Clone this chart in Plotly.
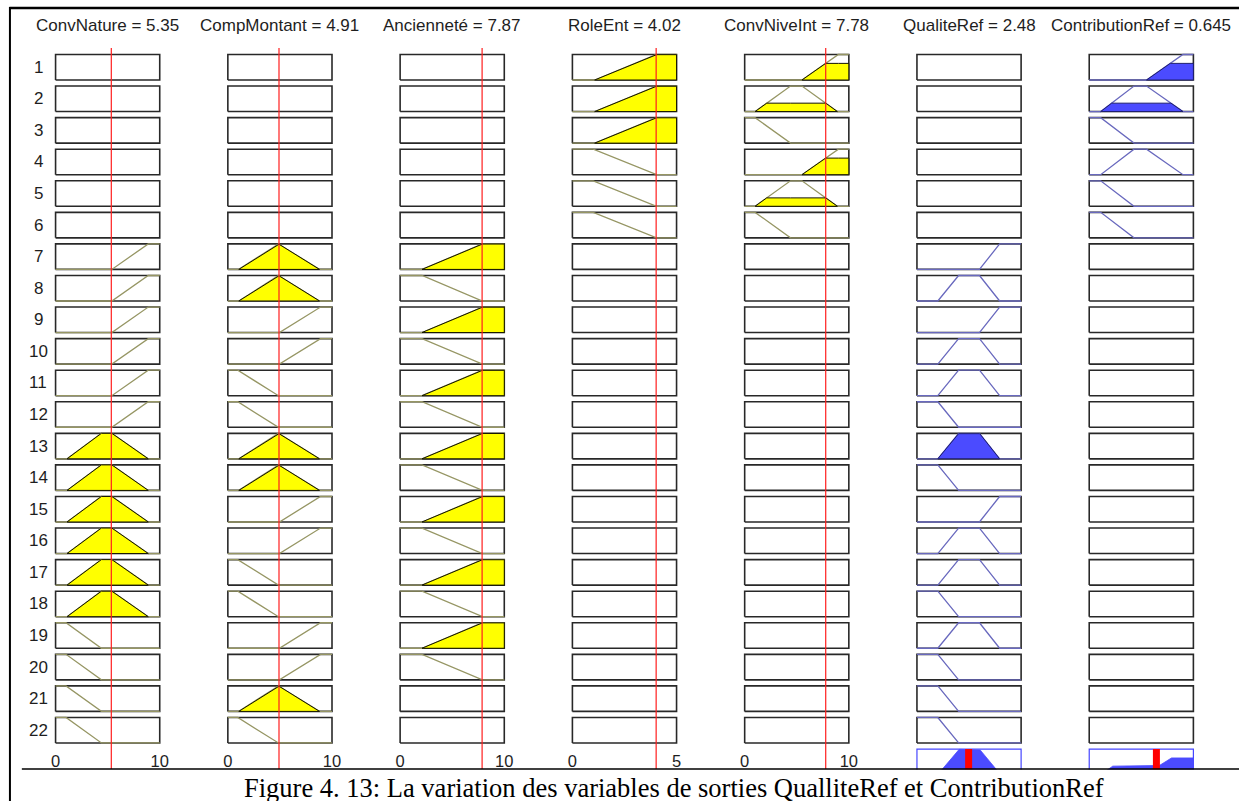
import numpy as np
import plotly.graph_objects as go

# ---------------- data ----------------
var_names = ["ConvNature", "CompMontant", "Ancienneté", "RoleEnt",
             "ConvNiveInt", "QualiteRef", "ContributionRef"]
value_labels = ["5.35", "4.91", "7.87", "4.02", "7.78", "2.48", "0.645"]
var_values = [5.35, 4.91, 7.87, 4.02, 7.78, 2.48, 0.645]
var_ranges = [10, 10, 10, 5, 10, 5, 1]
is_output = [False, False, False, False, False, True, True]

mf_conv_nature = {"low": [0, 0, 1.0, 4.4], "mid": [1.1, 4.4, 5.4, 8.9], "high": [5.4, 8.9, 10, 10]}
mf_comp_montant = {"low": [0, 0, 0.95, 4.86], "mid": [1.05, 4.86, 4.86, 8.8], "high": [4.95, 8.9, 10, 10]}
mf_anciennete = {"low": [0, 0, 2.1, 7.9], "high": [2.1, 7.9, 10, 10]}
mf_role_ent = {"low": [0, 0, 1.0, 4.04], "high": [1.07, 4.04, 5, 5]}
mf_conv_niveint = {"low": [0, 0, 1.0, 4.4], "mid": [1.0, 4.4, 5.5, 8.9], "high": [5.5, 9.0, 10, 10]}
mf_qualite_ref = {"low": [0, 0, 1.0, 2.0], "mid": [1.0, 2.0, 3.0, 3.97], "high": [3.0, 3.97, 5, 5]}
mf_contribution_ref = {"low": [0, 0, 0.11, 0.43], "mid": [0.11, 0.43, 0.55, 0.9], "high": [0.55, 0.9, 1, 1]}
mf_sets = [mf_conv_nature, mf_comp_montant, mf_anciennete, mf_role_ent,
           mf_conv_niveint, mf_qualite_ref, mf_contribution_ref]

# rule table: one entry per variable (None = not used in this rule)
rules = [
    [None, None, None, "high", "high", None, "high"],
    [None, None, None, "high", "mid", None, "mid"],
    [None, None, None, "high", "low", None, "low"],
    [None, None, None, "low", "high", None, "mid"],
    [None, None, None, "low", "mid", None, "low"],
    [None, None, None, "low", "low", None, "low"],
    ["high", "mid", "high", None, None, "high", None],
    ["high", "mid", "low", None, None, "mid", None],
    ["high", "high", "high", None, None, "high", None],
    ["high", "high", "low", None, None, "mid", None],
    ["high", "low", "high", None, None, "mid", None],
    ["high", "low", "low", None, None, "low", None],
    ["mid", "mid", "high", None, None, "mid", None],
    ["mid", "mid", "low", None, None, "low", None],
    ["mid", "high", "high", None, None, "high", None],
    ["mid", "high", "low", None, None, "mid", None],
    ["mid", "low", "high", None, None, "mid", None],
    ["mid", "low", "low", None, None, "low", None],
    ["low", "high", "high", None, None, "mid", None],
    ["low", "high", "low", None, None, "low", None],
    ["low", "mid", None, None, None, "low", None],
    ["low", "low", None, None, None, "low", None],
]
row_labels = [str(i + 1) for i in range(len(rules))]
caption = "Figure 4. 13: La variation des variables de sorties QualliteRef et ContributionRef"

# ---------------- geometry / style ----------------
FIG_W, FIG_H = 1246, 801
BOX_LEFT0, COL_PITCH, BOX_W = 53.0, 173.67, 105.0
BOX_TOP0, ROW_PITCH, BOX_H = 54.5, 31.57, 25.5
PAD = 2.0
SANS = "Liberation Sans, Arial, sans-serif"
SERIF = "Liberation Serif, Times New Roman, serif"
IN_LINE = "rgb(150,150,100)"
IN_FILL = "rgb(255,255,0)"
OUT_LINE = "rgb(105,105,190)"
OUT_FILL = "rgb(75,75,255)"
BOX_COL = "rgb(40,40,40)"
TXT = "#1e1e1e"


def px2x(p):
    return p / FIG_W


def px2y(p):
    return 1 - p / FIG_H


def trap(x, p):
    a, b, c, d = p
    x = np.asarray(x, dtype=float)
    up = np.where(x < a, 0.0, np.where(x >= b, 1.0, (x - a) / max(b - a, 1e-12)))
    down = np.where(x > d, 0.0, np.where(x <= c, 1.0, (d - x) / max(d - c, 1e-12)))
    return np.minimum(up, down)


def xname(c):
    return "x" if c == 0 else f"x{c + 1}"


def yname(r):
    return "y" if r == 0 else f"y{r + 1}"


n_rows = len(rules)
n_cols = len(var_names)

# firing strengths (min of antecedent memberships)
firing = []
for r, rule in enumerate(rules):
    mus = [float(trap(var_values[c], mf_sets[c][rule[c]]))
           for c in range(n_cols) if not is_output[c] and rule[c] is not None]
    firing.append(min(mus) if mus else 0.0)

fig = go.Figure()


def add(trace, c, r):
    trace.update(xaxis=xname(c), yaxis=yname(r), showlegend=False, hoverinfo="skip")
    fig.add_trace(trace)


for r in range(n_rows):
    for c in range(n_cols):
        R = var_ranges[c]
        add(go.Scatter(x=[0, R, R, 0, 0], y=[0, 0, 1, 1, 0], mode="lines",
                       line=dict(color=BOX_COL, width=1.6)), c, r)
        name = rules[r][c]
        if name is None:
            continue
        p = mf_sets[c][name]
        lcol = OUT_LINE if is_output[c] else IN_LINE
        fcol = OUT_FILL if is_output[c] else IN_FILL
        ecol = "rgb(30,30,110)" if is_output[c] else "rgb(20,20,0)"
        bx = [0.0] + [v for v in p if 0 < v < R] + [float(R)]
        bx = sorted(set(bx))
        add(go.Scatter(x=bx, y=trap(bx, p).tolist(), mode="lines",
                       line=dict(color=lcol, width=1.3)), c, r)
        h = firing[r] if is_output[c] else float(trap(var_values[c], p))
        if h > 0.01:
            a, b, cc, d = p
            lo, hi = max(a, 0.0), min(d, float(R))
            pts = {lo, hi, a + h * (b - a), d - h * (d - cc)}
            pts |= {v for v in p if lo <= v <= hi}
            xs = sorted(v for v in pts if lo <= v <= hi)
            ys = np.minimum(trap(xs, p), h).tolist()
            fx = [lo] + xs + [hi, lo]
            fy = [0.0] + ys + [0.0, 0.0]
            add(go.Scatter(x=fx, y=fy, mode="lines", fill="toself", fillcolor=fcol,
                           line=dict(color=ecol, width=1)), c, r)

# aggregated outputs (bottom row)
ra = n_rows
for c in range(n_cols):
    if not is_output[c]:
        continue
    R = var_ranges[c]
    grid = np.linspace(0, R, 801)
    agg = np.zeros_like(grid)
    for r in range(n_rows):
        name = rules[r][c]
        if name is not None and firing[r] > 0:
            agg = np.maximum(agg, np.minimum(trap(grid, mf_sets[c][name]), firing[r]))
    add(go.Scatter(x=[0, R, R, 0, 0], y=[0, 0, 1, 1, 0], mode="lines",
                   line=dict(color="rgb(70,70,255)", width=1.2)), c, ra)
    add(go.Scatter(x=[0] + grid.tolist() + [R], y=[0] + agg.tolist() + [0], mode="lines",
                   fill="toself", fillcolor=OUT_FILL, line=dict(color=OUT_FILL, width=0.8)), c, ra)
    add(go.Scatter(x=[var_values[c], var_values[c]], y=[0, 1], mode="lines",
                   line=dict(color="rgb(255,0,0)", width=7)), c, ra)

# ---------------- axes ----------------
layout_axes = {}
for c in range(n_cols):
    R = var_ranges[c]
    L = BOX_LEFT0 + COL_PITCH * c
    pd = PAD * R / BOX_W
    key = "xaxis" if c == 0 else f"xaxis{c + 1}"
    layout_axes[key] = dict(
        domain=[px2x(L - PAD), px2x(L + BOX_W + PAD)], range=[-pd, R + pd],
        anchor=yname(n_rows - 1), showgrid=False, zeroline=False, showline=False,
        tickmode="array", tickvals=[0, R], ticktext=["0", str(R)],
        showticklabels=not is_output[c], ticks="outside", ticklen=1,
        tickcolor="rgba(0,0,0,0)", tickfont=dict(family=SANS, size=16.5, color=TXT),
        fixedrange=True)
for r in range(n_rows + 1):
    T = BOX_TOP0 + ROW_PITCH * r
    pd = PAD / BOX_H
    key = "yaxis" if r == 0 else f"yaxis{r + 1}"
    layout_axes[key] = dict(domain=[px2y(T + BOX_H + PAD), px2y(T - PAD)],
                            range=[-pd, 1 + pd], visible=False, anchor="x", fixedrange=True)

annotations = []
for c in range(n_cols):
    annotations.append(dict(text=f"{var_names[c]} = {value_labels[c]}", xref=f"{xname(c)} domain",
                            x=0.5, yref="paper", y=px2y(26), xanchor="center", yanchor="middle",
                            showarrow=False, font=dict(family=SANS, size=17, color=TXT)))
for r in range(n_rows):
    T = BOX_TOP0 + ROW_PITCH * r
    annotations.append(dict(text=row_labels[r], xref="paper", x=px2x(35.5), yref="paper",
                            y=px2y(T + BOX_H / 2), xanchor="center", yanchor="middle",
                            showarrow=False, font=dict(family=SANS, size=17, color=TXT)))
annotations.append(dict(text=caption, xref="paper", x=px2x(676.5), yref="paper", y=px2y(788),
                        xanchor="center", yanchor="middle", showarrow=False,
                        font=dict(family=SERIF, size=26.5, color="#000")))

shapes = []
for c in range(n_cols):
    if is_output[c]:
        continue
    shapes.append(dict(type="line", xref=xname(c), yref="paper", x0=var_values[c], x1=var_values[c],
                       y0=px2y(48), y1=px2y(769), layer="above",
                       line=dict(color="rgb(255,30,30)", width=1.2)))
shapes.append(dict(type="rect", xref="paper", yref="paper", x0=px2x(8.5), x1=1, y0=0, y1=px2y(769.5),
                   fillcolor="white", line=dict(width=0), layer="above"))
shapes.append(dict(type="line", xref="paper", yref="paper", x0=px2x(19), x1=1, y0=px2y(769), y1=px2y(769),
                   line=dict(color="black", width=1.5), layer="above"))
shapes.append(dict(type="line", xref="paper", yref="paper", x0=px2x(6.5), x1=1, y0=px2y(8), y1=px2y(8),
                   line=dict(color="black", width=2.5), layer="above"))
shapes.append(dict(type="line", xref="paper", yref="paper", x0=px2x(7), x1=px2x(7), y0=px2y(7), y1=0,
                   line=dict(color="black", width=2), layer="above"))

fig.update_layout(width=FIG_W, height=FIG_H, margin=dict(l=0, r=0, t=0, b=0),
                  paper_bgcolor="white", plot_bgcolor="white", showlegend=False,
                  hovermode=False, annotations=annotations, shapes=shapes, **layout_axes)

fig.write_html("out.html", config={"displayModeBar": False},
               post_script="document.body.style.margin='0px';document.body.style.overflow='hidden';")
